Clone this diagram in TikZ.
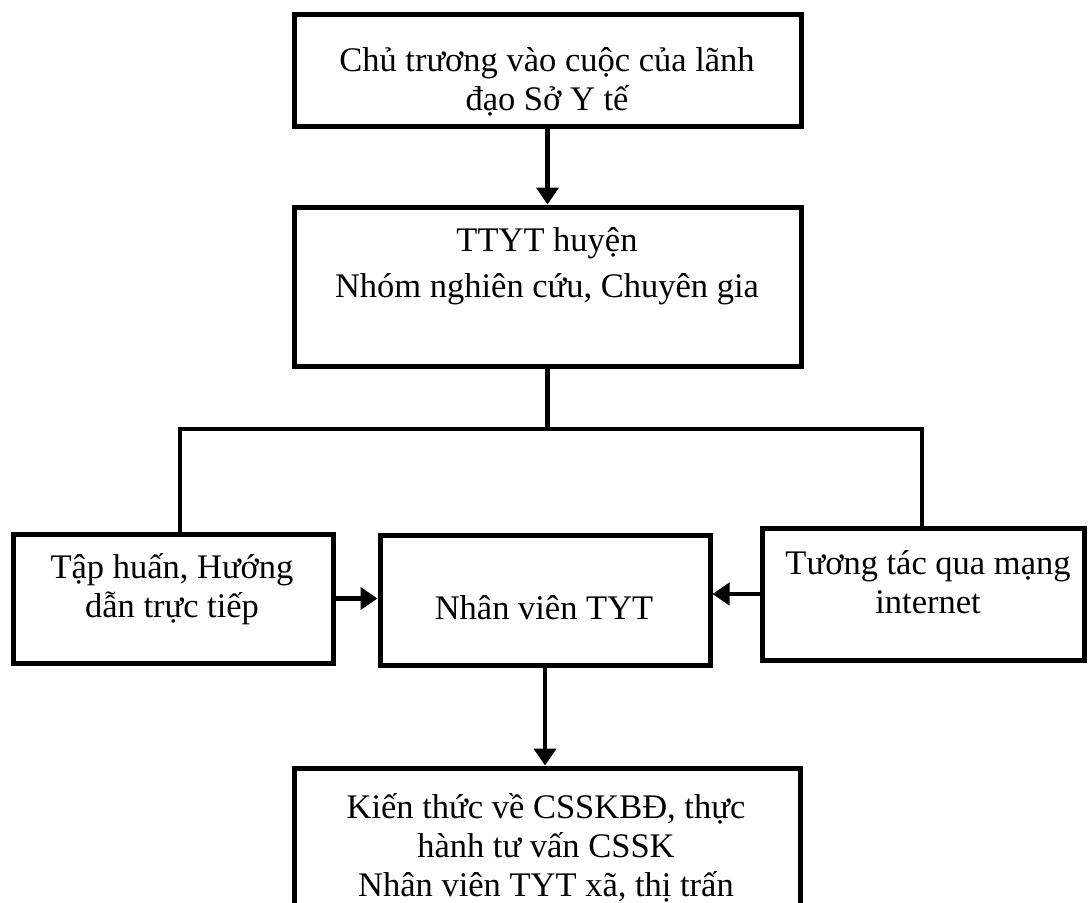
\documentclass[tikz,border=0pt]{standalone}
\usepackage{fontspec}
\setmainfont{Liberation Serif}
\usetikzlibrary{arrows.meta}
\begin{document}
\begin{tikzpicture}[x=1pt,y=-1pt,
  box/.style={draw, line width=5pt, rectangle, inner sep=0pt},
  txt/.style={align=center, font=\fontsize{34.5}{39}\selectfont, inner sep=0pt},
  conn/.style={line width=4.5pt},
  arr/.style={line width=4.5pt, -{Triangle[length=17pt,width=22pt]}}]
\useasboundingbox[fill=white] (0,0) rectangle (1089,902);
% boxes
\node[box, minimum width=507pt, minimum height=112pt] (b1) at (547.5,70) {};
\node[box, minimum width=507pt, minimum height=159pt] (b2) at (547.5,286.5) {};
\node[box, minimum width=320pt, minimum height=129pt] (lb) at (173,598.5) {};
\node[box, minimum width=330pt, minimum height=130pt] (mb) at (545,600) {};
\node[box, minimum width=322pt, minimum height=132pt] (rb) at (923,594) {};
\node[box, minimum width=506pt, minimum height=167pt] (bb) at (547,851.5) {};
% texts
\node[txt] (t1) at (547,82) {Chủ trương vào cuộc của lãnh\\đạo Sở Y tế};
\node[txt, font=\fontsize{34.5}{46}\selectfont] (t2) at (547,266) {TTYT huyện\\Nhóm nghiên cứu, Chuyên gia};
\node[txt] (t3) at (172,589) {Tập huấn, Hướng\\dẫn trực tiếp};
\node[txt] (t4) at (544,608) {Nhân viên TYT};
\node[txt] (t5) at (928,582) {Tương tác qua mạng\\internet};
\node[txt] (t6) at (546,848) {Kiến thức về CSSKBĐ, thực\\hành tư vấn CSSK\\Nhân viên TYT xã, thị trấn};
% connectors
\coordinate (jl) at (180,429);
\coordinate (jr) at (922,429);
\draw[arr] (b1.south) -- (b2.north);
\draw[conn] (b2.south) -- (b2.south |- jl);
\draw[conn, line cap=rect] (jl) -- (jr);
\draw[conn] (jl) -- (jl |- lb.north);
\draw[conn] (jr) -- (jr |- rb.north);
\draw[arr] (lb.east) -- (lb.east -| mb.west);
\draw[arr] (rb.west) -- (rb.west -| mb.east);
\draw[arr] (mb.south) -- (mb.south |- bb.north);
\end{tikzpicture}
\end{document}
